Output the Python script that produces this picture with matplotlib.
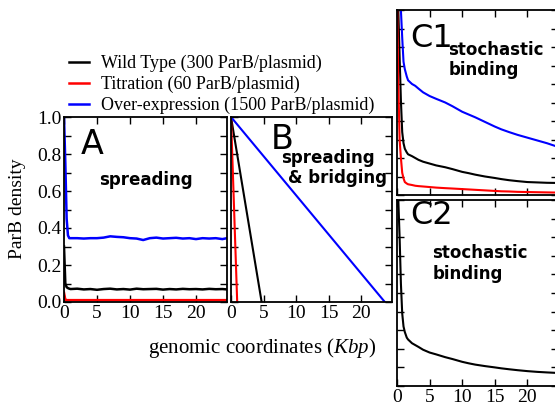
import matplotlib
matplotlib.use("Agg")
import matplotlib.pyplot as plt

plt.rcParams['mathtext.fontset'] = 'custom'
plt.rcParams['mathtext.rm'] = 'Liberation Serif'
plt.rcParams['mathtext.it'] = 'Liberation Serif:italic'

# ---------------- data ----------------
labels = ["Wild Type (300 ParB/plasmid)", "Titration (60 ParB/plasmid)",
          "Over-expression (1500 ParB/plasmid)"]
colors = ["black", "red", "blue"]

# Panel A: spreading
xA = [0, 0.2, 0.4, 0.6, 0.8, 1, 2, 3, 4, 5, 6, 7, 8, 9, 10, 11, 12, 13, 14, 15,
      16, 17, 18, 19, 20, 21, 22, 23, 24, 24.7]
A_wt = [0.30, 0.10, 0.08, 0.075, 0.072, 0.07, 0.072, 0.068, 0.07, 0.066, 0.07, 0.072,
        0.068, 0.07, 0.067, 0.072, 0.069, 0.07, 0.071, 0.067, 0.07, 0.068, 0.071, 0.069,
        0.07, 0.068, 0.071, 0.069, 0.07, 0.068]
A_tit = [0.05, 0.012, 0.01, 0.01, 0.01, 0.01, 0.01, 0.01, 0.01, 0.01, 0.01, 0.01, 0.01,
         0.01, 0.01, 0.01, 0.01, 0.01, 0.01, 0.01, 0.01, 0.01, 0.01, 0.01, 0.01, 0.01,
         0.01, 0.01, 0.01, 0.01]
A_over = [1.0, 0.75, 0.45, 0.36, 0.345, 0.345, 0.345, 0.343, 0.345, 0.345, 0.348, 0.355,
          0.352, 0.35, 0.345, 0.343, 0.335, 0.345, 0.348, 0.343, 0.345, 0.347, 0.343,
          0.345, 0.34, 0.345, 0.343, 0.345, 0.34, 0.345]

# Panel B: spreading & bridging (linear profiles)
B_wt_x = [0, 4.7]
B_tit_x = [0, 0.95]
B_over_x = [0, 23.6]
B_y = [1.0, 0.0]

# Panel C1: stochastic binding
xC = [0, 0.2, 0.4, 0.6, 0.8, 1.0, 1.2, 1.5, 1.7, 2.3, 2.8, 3.3, 4, 5, 6, 7.4, 8.5, 10,
      11, 12, 13.5, 15, 16, 17.2, 18.5, 20, 21.5, 23, 24.7]
C1_wt = [1.1, 1.0, 0.75, 0.51, 0.34, 0.28, 0.25, 0.23, 0.22, 0.21, 0.20, 0.19, 0.18,
         0.17, 0.16, 0.15, 0.14, 0.125, 0.118, 0.11, 0.10, 0.092, 0.086, 0.08, 0.075,
         0.07, 0.068, 0.066, 0.065]
C1_tit = [1.1, 0.6, 0.3, 0.2, 0.12, 0.09, 0.07, 0.062, 0.058, 0.054, 0.05, 0.048, 0.046,
          0.043, 0.04, 0.037, 0.035, 0.032, 0.03, 0.028, 0.025, 0.022, 0.02, 0.019, 0.017,
          0.016, 0.015, 0.014, 0.013]
C1_over = [1.2, 1.15, 1.1, 1.0, 0.85, 0.72, 0.68, 0.64, 0.62, 0.60, 0.59, 0.575, 0.555,
           0.535, 0.52, 0.50, 0.48, 0.45, 0.435, 0.42, 0.395, 0.37, 0.355, 0.34, 0.325,
           0.31, 0.295, 0.28, 0.26]

# Panel C2: stochastic binding (wild type)
C2_wt = [1.1, 1.0, 0.8, 0.55, 0.39, 0.32, 0.29, 0.26, 0.25, 0.23, 0.22, 0.21, 0.195,
         0.18, 0.17, 0.155, 0.145, 0.13, 0.122, 0.115, 0.107, 0.10, 0.095, 0.09, 0.085,
         0.08, 0.076, 0.073, 0.07]

xticks = [0, 5, 10, 15, 20]
yticks = [0.0, 0.2, 0.4, 0.6, 0.8, 1.0]

# ---------------- figure ----------------
W, H = 555, 405
fig = plt.figure(figsize=(W / 100, H / 100), dpi=100)

def px_axes(left, right, top, bottom):
    return fig.add_axes([left / W, (H - bottom) / H, (right - left) / W, (bottom - top) / H])

serif = 'Liberation Serif'
tfs = 14

def style(ax, xlabels=True, ylabels=False):
    ax.set_xlim(0, 24.7)
    ax.set_ylim(0, 1)
    ax.set_xticks(xticks)
    ax.set_yticks([i / 10 for i in range(11)])
    ax.tick_params(direction='in', length=5, width=1, top=True, right=True,
                   labelsize=tfs, pad=2)
    for s in ax.spines.values():
        s.set_linewidth(1.3)
    if xlabels:
        ax.set_xticklabels([str(t) for t in xticks], family=serif)
    else:
        ax.set_xticklabels([])
    if ylabels:
        ax.set_yticklabels(["%.1f" % (i / 10) if i % 2 == 0 else "" for i in range(11)],
                           family=serif)
    else:
        ax.set_yticklabels([])

axA = px_axes(64, 227, 117, 302)
axB = px_axes(231, 392, 117, 302)
axC1 = px_axes(397, 558, 10, 195)
axC2 = px_axes(397, 558, 200, 386)

lw = 1.5
hA = []
for y, c in zip([A_wt, A_tit, A_over], colors):
    hA.append(axA.plot(xA, y, color=c, lw=1.8)[0])
style(axA, True, True)

for bx, c in zip([B_wt_x, B_tit_x, B_over_x], colors):
    axB.plot(bx, B_y, color=c, lw=lw)
style(axB, True, False)

for y, c in zip([C1_wt, C1_tit, C1_over], colors):
    axC1.plot(xC, y, color=c, lw=lw)
style(axC1, False, False)

axC2.plot(xC, C2_wt, color='black', lw=lw)
style(axC2, True, False)

# panel texts
bold = dict(family='DejaVu Sans', fontweight='bold', fontsize=12)
axA.text(0.1, 0.94, "A", transform=axA.transAxes, fontsize=24, va='top', ha='left')
axA.text(0.5, 0.66, "spreading", transform=axA.transAxes, ha='center', va='center', **bold)
axB.text(0.25, 0.97, "B", transform=axB.transAxes, fontsize=24, va='top', ha='left')
axB.text(0.31, 0.78, "spreading", transform=axB.transAxes, ha='left', va='center', **bold)
axB.text(0.355, 0.67, "& bridging", transform=axB.transAxes, ha='left', va='center', **bold)
axC1.text(0.08, 0.93, "C1", transform=axC1.transAxes, fontsize=23, va='top', ha='left')
axC1.text(0.32, 0.73, "stochastic\nbinding", transform=axC1.transAxes, ha='left',
          va='center', linespacing=1.2, **bold)
axC2.text(0.08, 1.0, "C2", transform=axC2.transAxes, fontsize=23, va='top', ha='left')
axC2.text(0.22, 0.66, "stochastic\nbinding", transform=axC2.transAxes, ha='left',
          va='center', linespacing=1.2, **bold)

fig.text(18 / W, 1 - 209 / H, "ParB density", rotation=90, ha='center', va='center',
         family=serif, fontsize=14)
fig.text(262 / W, 1 - 348 / H, "genomic coordinates ($Kbp$)", ha='center', va='center',
         family=serif, fontsize=15)

fig.legend(hA, labels, loc='upper left', bbox_to_anchor=(69 / W, 1 - 55 / H),
           frameon=False, prop=dict(family=serif, size=13), handlelength=1.1,
           handletextpad=0.65, labelspacing=0.2, borderpad=0, borderaxespad=0)

fig.savefig("out.png", dpi=100)
